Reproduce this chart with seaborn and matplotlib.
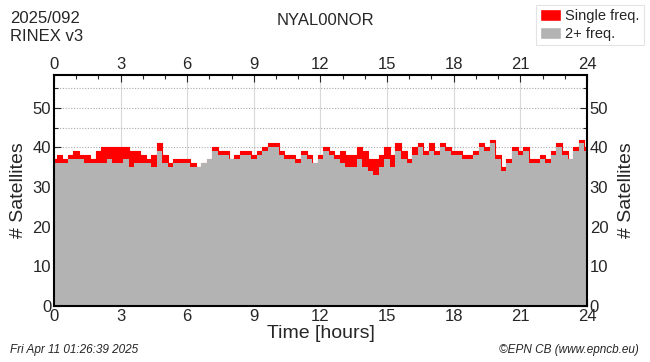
import numpy as np
import pandas as pd
import matplotlib
matplotlib.use("Agg")
import matplotlib.pyplot as plt
from matplotlib.patches import Patch
import seaborn as sns

hours = [i * 0.25 for i in range(97)]
all_sats = [
    37, 38, 37, 38, 39, 38, 38, 37,   # 0-2h
    39, 40, 40, 40, 40, 40, 39, 39,   # 2-4h
    38, 37, 38, 41, 38, 36, 37, 37,   # 4-6h
    37, 36, 35, 36, 37, 40, 39, 39,   # 6-8h
    37, 38, 39, 39, 38, 39, 40, 41,   # 8-10h
    41, 39, 38, 38, 37, 39, 38, 36,   # 10-12h
    38, 40, 39, 38, 39, 38, 38, 40,   # 12-14h
    39, 37, 37, 38, 40, 38, 41, 39,   # 14-16h
    37, 40, 41, 39, 41, 39, 41, 40,   # 16-18h
    39, 39, 38, 38, 39, 41, 40, 42,   # 18-20h
    38, 35, 37, 40, 39, 40, 37, 37,   # 20-22h
    38, 37, 39, 41, 39, 37, 40, 42,   # 22-24h
    40,
]
dual_sats = [
    36, 36, 36, 37, 37, 37, 36, 36,
    36, 36, 37, 36, 36, 37, 35, 36,
    36, 36, 35, 39, 36, 35, 36, 36,
    36, 35, 35, 36, 37, 39, 38, 38,
    37, 37, 38, 38, 37, 38, 39, 40,
    40, 38, 37, 37, 36, 38, 37, 36,
    37, 39, 38, 37, 36, 35, 35, 37,
    35, 34, 33, 35, 37, 35, 39, 37,
    36, 38, 40, 38, 39, 38, 40, 39,
    38, 38, 37, 37, 38, 40, 39, 41,
    37, 34, 36, 39, 38, 39, 36, 36,
    37, 36, 38, 40, 38, 37, 39, 41,
    39,
]

df = pd.DataFrame({"hour": hours, "all": all_sats, "dual": dual_sats})

sns.set_style("ticks")
plt.rcParams["font.family"] = ["Liberation Sans", "DejaVu Sans"]

red = "#ff0000"
grey = "#b3b3b3"

fig = plt.figure(figsize=(6.5, 3.62), dpi=100)
ax = fig.add_axes([0.083, 0.155, 0.82, 0.638])

# grid behind the fills
for h in range(3, 24, 3):
    ax.axvline(h, color="#d9d9d9", lw=0.8, zorder=0)
for s in range(5, 60, 5):
    ax.axhline(s, color="#aaaaaa", lw=0.8, ls=(0, (1, 1.5)), zorder=0)

ax.fill_between(df["hour"], 0, df["all"], color=red, lw=0, step="mid", zorder=1)
ax.fill_between(df["hour"], 0, df["dual"], color=grey, lw=0, step="mid", zorder=2)
sns.lineplot(data=df, x="hour", y="all", ax=ax, color=red, lw=0.8,
             drawstyle="steps-mid", zorder=1)

ax.set_xlim(0, 24)
ax.set_ylim(0, 58.3)
ax.set_xticks(range(0, 25, 3))
ax.set_xticks(range(0, 25), minor=True)
ax.set_yticks(range(0, 51, 10))
ax.set_yticks(range(0, 56, 5), minor=True)
ax.tick_params(which="both", direction="in", top=True, right=True,
               labeltop=True, labelright=True, labelsize=12, pad=2)
ax.tick_params(which="major", length=5, width=0.8)
ax.tick_params(which="minor", length=3, width=0.8)
for sp in ax.spines.values():
    sp.set_linewidth(1.5)
    sp.set_color("black")

ax.set_xlabel("Time [hours]", fontsize=14, labelpad=1)
ax.set_ylabel("# Satellites", fontsize=14, labelpad=4)
ax2 = ax.secondary_yaxis("right")
ax2.set_yticks([])
ax2.spines["right"].set_visible(False)
ax2.set_ylabel("# Satellites", fontsize=14, labelpad=22)

fig.text(0.016, 0.95, "2025/092", fontsize=12, va="center", ha="left")
fig.text(0.016, 0.898, "RINEX v3", fontsize=12, va="center", ha="left")
fig.text(0.5, 0.942, "NYAL00NOR", fontsize=12, va="center", ha="center")
fig.text(0.016, 0.033, "Fri Apr 11 01:26:39 2025", fontsize=8.5,
         style="italic", va="center", ha="left")
fig.text(0.982, 0.033, "©EPN CB (www.epncb.eu)", fontsize=8.5,
         style="italic", va="center", ha="right")

handles = [Patch(facecolor=red, label="Single freq."),
           Patch(facecolor=grey, label="2+ freq.")]
leg = fig.legend(handles=handles, loc="upper right", bbox_to_anchor=(0.995, 0.995),
                 fontsize=10.5, frameon=True, fancybox=False, edgecolor="#dddddd",
                 handlelength=1.4, handleheight=0.9, handletextpad=0.3,
                 borderpad=0.3, labelspacing=0.25, borderaxespad=0.2)
leg.get_frame().set_linewidth(0.8)

fig.savefig("out.png", dpi=100)
